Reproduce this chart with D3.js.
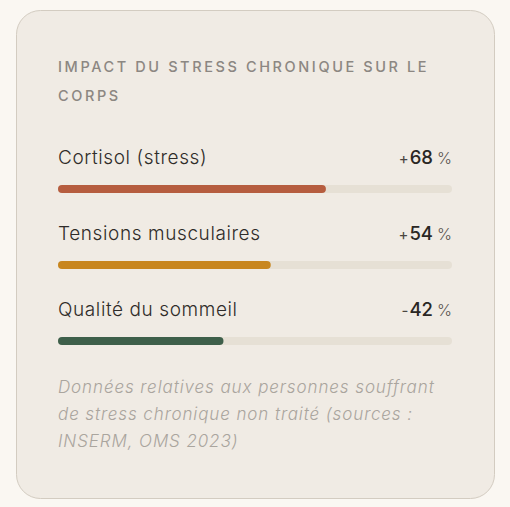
<!DOCTYPE html>
<html>
<head>
<meta charset="utf-8">
<script src="https://cdn.jsdelivr.net/npm/d3@7"></script>
<style>
  html, body { margin: 0; padding: 0; background: #faf7f2; }
  svg { display: block; }
</style>
</head>
<body>
<script>
// chart data
let categories = ["Cortisol (stress)", "Tensions musculaires", "Qualité du sommeil"]
let values = [68, 54, 42]
let signs = ["+", "+", "-"]
let colors = ["#b65d3f", "#c8861f", "#3e5f4a"]
let titleLines = ["IMPACT DU STRESS CHRONIQUE SUR LE", "CORPS"]
let noteLines = ["Données relatives aux personnes souffrant",
                 "de stress chronique non traité (sources :",
                 "INSERM, OMS 2023)"]

let width = 510
let height = 507
let left = 58
let right = 452

let svg = d3.select("body")
            .append("svg")
            .attr("width", width)
            .attr("height", height)

// card
svg.append("rect")
    .attr("x", 16.5)
    .attr("y", 10.5)
    .attr("width", 478)
    .attr("height", 488)
    .attr("rx", 24)
    .attr("fill", "#f0ebe4")
    .attr("stroke", "#d3ccc1")

// title
svg.selectAll(".title")
    .data(titleLines)
    .enter()
    .append("text")
    .attr("class", "title")
    .attr("x", left)
    .attr("y", (d, i) => 72 + i * 29)
    .style("font-family", "Inter")
    .style("font-size", "14.5px")
    .style("font-weight", 500)
    .style("letter-spacing", "2.6px")
    .attr("fill", "#8c8782")
    .text(d => d)

let xScale = d3.scaleLinear()
                .domain([0, 100])
                .range([left, right])

let yScale = d3.scaleBand()
                .domain(categories)
                .range([140, 368])

let rows = svg.selectAll(".row")
                .data(categories)
                .enter()
                .append("g")
                .attr("class", "row")
                .attr("transform", d => "translate(0," + yScale(d) + ")")

rows.append("text")
    .attr("x", left)
    .attr("y", 24)
    .style("font-family", "Inter")
    .style("font-size", "19px")
    .style("font-weight", 300)
    .style("letter-spacing", "0.6px")
    .attr("fill", "#2f2c29")
    .text(d => d)

let val = rows.append("text")
    .attr("x", right)
    .attr("y", 24)
    .attr("text-anchor", "end")
    .style("font-family", "Inter")
    .attr("fill", "#2a2724")

val.append("tspan")
    .style("font-size", "15px")
    .attr("fill", "#4a4541")
    .text((d, i) => signs[i])
val.append("tspan")
    .attr("dx", 1)
    .style("font-size", "18.5px")
    .style("font-weight", 500)
    .text((d, i) => values[i])
val.append("tspan")
    .style("font-size", "16px")
    .style("font-weight", 300)
    .attr("fill", "#5a5550")
    .attr("dx", 4)
    .text("%")

// track
rows.append("rect")
    .attr("x", xScale(0))
    .attr("y", 45)
    .attr("width", xScale(100) - xScale(0))
    .attr("height", 8)
    .attr("rx", 4)
    .attr("fill", "#e6e0d5")

// value bar
rows.append("rect")
    .attr("x", xScale(0))
    .attr("y", 45)
    .attr("width", (d, i) => xScale(values[i]) - xScale(0))
    .attr("height", 8)
    .attr("rx", 4)
    .attr("fill", (d, i) => colors[i])

// note
svg.selectAll(".note")
    .data(noteLines)
    .enter()
    .append("text")
    .attr("class", "note")
    .attr("x", left)
    .attr("y", (d, i) => 393 + i * 27)
    .style("font-family", "Inter")
    .style("font-size", "17px")
    .style("font-style", "italic")
    .style("font-weight", 300)
    .style("letter-spacing", "0.9px")
    .attr("fill", "#aaa59e")
    .text(d => d)
</script>
</body>
</html>
